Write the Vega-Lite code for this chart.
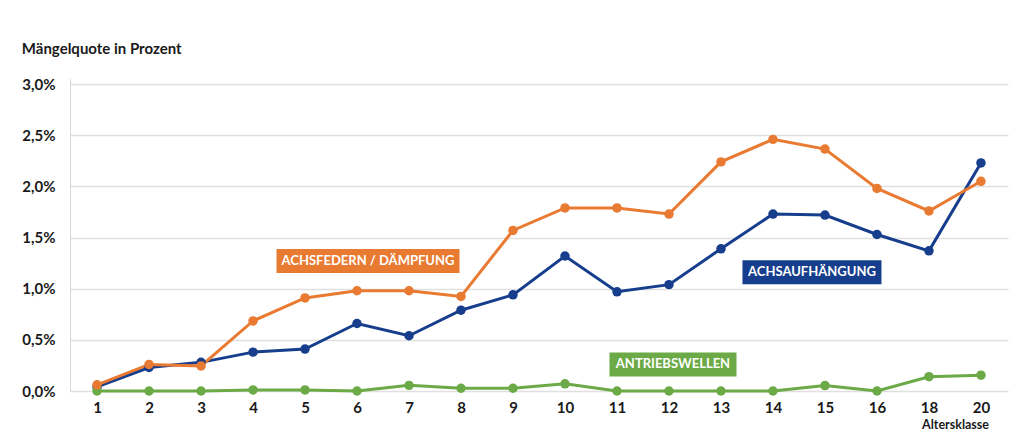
{
  "$schema": "https://vega.github.io/schema/vega-lite/v6.json",
  "width": 938,
  "height": 313,
  "autosize": {"type": "none"},
  "padding": {"left": 70, "top": 78, "right": 10, "bottom": 41},
  "background": "white",
  "config": {"font": "Lato", "view": {"stroke": null}},
  "title": {"text": "Mängelquote in Prozent", "anchor": "start", "frame": "bounds", "fontSize": 15, "fontWeight": "bold", "color": "#1a1a1a", "offset": 20},
  "datasets": {
    "quote": [
      {"series": "ACHSAUFHÄNGUNG", "Altersklasse": 1, "quote": 0.04},
      {"series": "ACHSAUFHÄNGUNG", "Altersklasse": 2, "quote": 0.23},
      {"series": "ACHSAUFHÄNGUNG", "Altersklasse": 3, "quote": 0.28},
      {"series": "ACHSAUFHÄNGUNG", "Altersklasse": 4, "quote": 0.38},
      {"series": "ACHSAUFHÄNGUNG", "Altersklasse": 5, "quote": 0.41},
      {"series": "ACHSAUFHÄNGUNG", "Altersklasse": 6, "quote": 0.66},
      {"series": "ACHSAUFHÄNGUNG", "Altersklasse": 7, "quote": 0.54},
      {"series": "ACHSAUFHÄNGUNG", "Altersklasse": 8, "quote": 0.79},
      {"series": "ACHSAUFHÄNGUNG", "Altersklasse": 9, "quote": 0.94},
      {"series": "ACHSAUFHÄNGUNG", "Altersklasse": 10, "quote": 1.32},
      {"series": "ACHSAUFHÄNGUNG", "Altersklasse": 11, "quote": 0.97},
      {"series": "ACHSAUFHÄNGUNG", "Altersklasse": 12, "quote": 1.04},
      {"series": "ACHSAUFHÄNGUNG", "Altersklasse": 13, "quote": 1.39},
      {"series": "ACHSAUFHÄNGUNG", "Altersklasse": 14, "quote": 1.73},
      {"series": "ACHSAUFHÄNGUNG", "Altersklasse": 15, "quote": 1.72},
      {"series": "ACHSAUFHÄNGUNG", "Altersklasse": 16, "quote": 1.53},
      {"series": "ACHSAUFHÄNGUNG", "Altersklasse": 18, "quote": 1.37},
      {"series": "ACHSAUFHÄNGUNG", "Altersklasse": 20, "quote": 2.23},
      {"series": "ANTRIEBSWELLEN", "Altersklasse": 1, "quote": 0.0},
      {"series": "ANTRIEBSWELLEN", "Altersklasse": 2, "quote": 0.0},
      {"series": "ANTRIEBSWELLEN", "Altersklasse": 3, "quote": 0.0},
      {"series": "ANTRIEBSWELLEN", "Altersklasse": 4, "quote": 0.01},
      {"series": "ANTRIEBSWELLEN", "Altersklasse": 5, "quote": 0.01},
      {"series": "ANTRIEBSWELLEN", "Altersklasse": 6, "quote": 0.0},
      {"series": "ANTRIEBSWELLEN", "Altersklasse": 7, "quote": 0.055},
      {"series": "ANTRIEBSWELLEN", "Altersklasse": 8, "quote": 0.027},
      {"series": "ANTRIEBSWELLEN", "Altersklasse": 9, "quote": 0.027},
      {"series": "ANTRIEBSWELLEN", "Altersklasse": 10, "quote": 0.07},
      {"series": "ANTRIEBSWELLEN", "Altersklasse": 11, "quote": 0.0},
      {"series": "ANTRIEBSWELLEN", "Altersklasse": 12, "quote": 0.0},
      {"series": "ANTRIEBSWELLEN", "Altersklasse": 13, "quote": 0.0},
      {"series": "ANTRIEBSWELLEN", "Altersklasse": 14, "quote": 0.0},
      {"series": "ANTRIEBSWELLEN", "Altersklasse": 15, "quote": 0.053},
      {"series": "ANTRIEBSWELLEN", "Altersklasse": 16, "quote": 0.0},
      {"series": "ANTRIEBSWELLEN", "Altersklasse": 18, "quote": 0.14},
      {"series": "ANTRIEBSWELLEN", "Altersklasse": 20, "quote": 0.155},
      {"series": "ACHSFEDERN / DÄMPFUNG", "Altersklasse": 1, "quote": 0.06},
      {"series": "ACHSFEDERN / DÄMPFUNG", "Altersklasse": 2, "quote": 0.26},
      {"series": "ACHSFEDERN / DÄMPFUNG", "Altersklasse": 3, "quote": 0.245},
      {"series": "ACHSFEDERN / DÄMPFUNG", "Altersklasse": 4, "quote": 0.685},
      {"series": "ACHSFEDERN / DÄMPFUNG", "Altersklasse": 5, "quote": 0.91},
      {"series": "ACHSFEDERN / DÄMPFUNG", "Altersklasse": 6, "quote": 0.98},
      {"series": "ACHSFEDERN / DÄMPFUNG", "Altersklasse": 7, "quote": 0.98},
      {"series": "ACHSFEDERN / DÄMPFUNG", "Altersklasse": 8, "quote": 0.925},
      {"series": "ACHSFEDERN / DÄMPFUNG", "Altersklasse": 9, "quote": 1.57},
      {"series": "ACHSFEDERN / DÄMPFUNG", "Altersklasse": 10, "quote": 1.79},
      {"series": "ACHSFEDERN / DÄMPFUNG", "Altersklasse": 11, "quote": 1.79},
      {"series": "ACHSFEDERN / DÄMPFUNG", "Altersklasse": 12, "quote": 1.73},
      {"series": "ACHSFEDERN / DÄMPFUNG", "Altersklasse": 13, "quote": 2.24},
      {"series": "ACHSFEDERN / DÄMPFUNG", "Altersklasse": 14, "quote": 2.46},
      {"series": "ACHSFEDERN / DÄMPFUNG", "Altersklasse": 15, "quote": 2.365},
      {"series": "ACHSFEDERN / DÄMPFUNG", "Altersklasse": 16, "quote": 1.98},
      {"series": "ACHSFEDERN / DÄMPFUNG", "Altersklasse": 18, "quote": 1.76},
      {"series": "ACHSFEDERN / DÄMPFUNG", "Altersklasse": 20, "quote": 2.05}
    ]
  },
  "layer": [
    {
      "data": {"name": "quote"},
      "mark": {"type": "line", "strokeWidth": 3, "point": {"filled": true, "size": 90, "opacity": 1}},
      "encoding": {
        "x": {
          "field": "Altersklasse", "type": "ordinal",
          "scale": {"type": "point", "padding": 0.52},
          "axis": {"title": "Altersklasse", "titleAnchor": "end", "titleAlign": "center", "titleX": 885, "titleFontSize": 12.5, "titleFontWeight": "bold", "titleColor": "#1a1a1a", "titlePadding": 3, "labelAngle": 0, "labelFontSize": 15, "labelFontWeight": "bold", "labelColor": "#1a1a1a", "labelPadding": 9, "ticks": false, "domain": false, "grid": false}
        },
        "y": {
          "field": "quote", "type": "quantitative",
          "scale": {"domain": [0, 3.06], "nice": false, "zero": true},
          "axis": {"title": null, "values": [0, 0.5, 1, 1.5, 2, 2.5, 3], "labelExpr": "replace(format(datum.value, '.1f'), '.', ',') + '%'", "ticks": false, "domainColor": "#d9d9d9", "gridColor": "#e0e0e0", "gridWidth": 1.5, "labelFontSize": 15, "labelFontWeight": "bold", "labelColor": "#1a1a1a", "labelPadding": 15}
        },
        "color": {
          "field": "series", "type": "nominal",
          "scale": {"domain": ["ACHSAUFHÄNGUNG", "ANTRIEBSWELLEN", "ACHSFEDERN / DÄMPFUNG"], "range": ["#163E8C", "#6BAA46", "#E97A32"]},
          "legend": null
        }
      }
    },
    {
      "data": {"values": [{"Altersklasse": 6, "quote": 1.27, "label": "ACHSFEDERN / DÄMPFUNG"}]},
      "encoding": {
        "x": {"field": "Altersklasse", "type": "ordinal"},
        "y": {"field": "quote", "type": "quantitative"}
      },
      "layer": [
        {"mark": {"type": "rect", "width": 183, "height": 24, "xOffset": 11, "fill": "#E97A32"}},
        {"mark": {"type": "text", "dx": 11, "fill": "white", "fontWeight": "bold", "fontSize": 13}, "encoding": {"text": {"field": "label"}}}
      ]
    },
    {
      "data": {"values": [{"Altersklasse": 15, "quote": 1.16, "label": "ACHSAUFHÄNGUNG"}]},
      "encoding": {
        "x": {"field": "Altersklasse", "type": "ordinal"},
        "y": {"field": "quote", "type": "quantitative"}
      },
      "layer": [
        {"mark": {"type": "rect", "width": 139, "height": 24, "xOffset": -13, "fill": "#163E8C"}},
        {"mark": {"type": "text", "dx": -13, "fill": "white", "fontWeight": "bold", "fontSize": 13}, "encoding": {"text": {"field": "label"}}}
      ]
    },
    {
      "data": {"values": [{"Altersklasse": 12, "quote": 0.26, "label": "ANTRIEBSWELLEN"}]},
      "encoding": {
        "x": {"field": "Altersklasse", "type": "ordinal"},
        "y": {"field": "quote", "type": "quantitative"}
      },
      "layer": [
        {"mark": {"type": "rect", "width": 127, "height": 24, "xOffset": 4, "fill": "#6BAA46"}},
        {"mark": {"type": "text", "dx": 4, "fill": "white", "fontWeight": "bold", "fontSize": 13}, "encoding": {"text": {"field": "label"}}}
      ]
    }
  ]
}
